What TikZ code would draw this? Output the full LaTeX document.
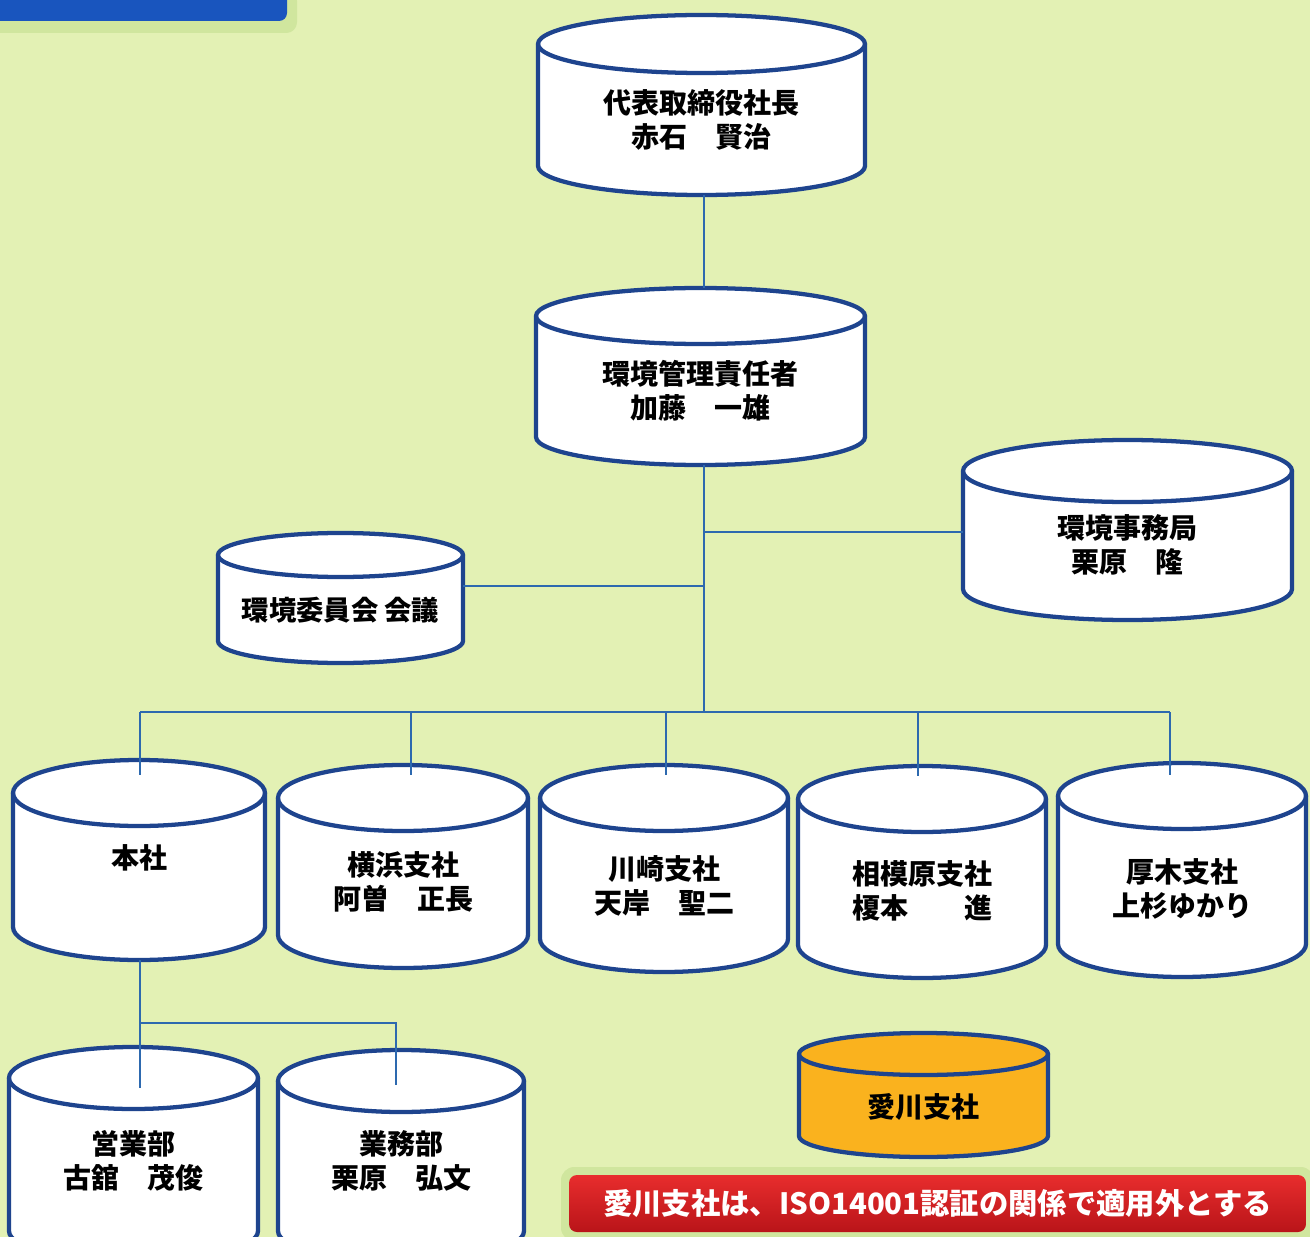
\documentclass[tikz,border=0pt]{standalone}
\usepackage{fontspec}
\setmainfont{Noto Sans CJK JP}
\usetikzlibrary{calc}
\definecolor{bg}{RGB}{227,241,180}
\definecolor{navy}{RGB}{30,68,142}
\definecolor{conn}{RGB}{45,105,175}
\definecolor{orng}{RGB}{250,178,30}
\definecolor{tabblue}{RGB}{25,85,190}
\definecolor{redtop}{RGB}{232,45,45}
\definecolor{redbot}{RGB}{185,20,25}
\definecolor{shadowgreen}{RGB}{208,230,158}
\tikzset{
  cylline/.style={draw=navy, line width=3.2pt},
  cylbody/.style={draw=none, inner sep=0pt, outer sep=0pt},
  cyltext/.style={align=center, text=black, inner sep=0pt, font=\fontsize{21}{25.5}\selectfont\bfseries},
  connline/.style={draw=conn, line width=1.3pt},
  banner/.style={rounded corners=6pt, top color=redtop, bottom color=redbot, text=white, inner sep=0pt,
     font=\fontsize{22}{26}\selectfont\bfseries}
}
% #1 name, #2 xl, #3 xr, #4 ytop, #5 ybottom, #6 ry, #7 fill, #8 text y, #9 text
\newcommand\mycyl[9]{%
 \pgfmathsetmacro\cylcx{(#2+#3)/2}%
 \pgfmathsetmacro\cylrx{(#3-#2)/2}%
 \pgfmathsetmacro\cylkx{0.5523*\cylrx}%
 \pgfmathsetmacro\cylky{0.5523*#6}%
 \pgfmathsetmacro\cylct{#4+#6}%
 \pgfmathsetmacro\cylcb{#5-#6}%
 \pgfmathsetmacro\cylcy{(#4+#5)/2}%
 \pgfmathsetmacro\cylw{(#3-#2)*0.75}%
 \pgfmathsetmacro\cylh{(#5-#4)*0.75}%
 \node[cylbody, minimum width=\cylw pt, minimum height=\cylh pt] (#1) at (\cylcx,\cylcy) {};
 \filldraw[cylline, fill=#7] (#2,\cylct) -- (#2,\cylcb)
   .. controls (#2,\cylcb+\cylky) and (\cylcx-\cylkx,#5) .. (\cylcx,#5)
   .. controls (\cylcx+\cylkx,#5) and (#3,\cylcb+\cylky) .. (#3,\cylcb)
   -- (#3,\cylct)
   .. controls (#3,\cylct-\cylky) and (\cylcx+\cylkx,#4) .. (\cylcx,#4)
   .. controls (\cylcx-\cylkx,#4) and (#2,\cylct-\cylky) .. cycle;
 \draw[cylline] (#2,\cylct)
   .. controls (#2,\cylct+\cylky) and (\cylcx-\cylkx,\cylct+#6) .. (\cylcx,\cylct+#6)
   .. controls (\cylcx+\cylkx,\cylct+#6) and (#3,\cylct+\cylky) .. (#3,\cylct);
 \node[cyltext] (#1-t) at (\cylcx,#8) {#9};
}
\begin{document}
\begin{tikzpicture}[x=0.75pt,y=-0.75pt]
\useasboundingbox (0,0) rectangle (1310,1237);
\clip (0,0) rectangle (1310,1237);
\fill[bg] (0,0) rectangle (1310,1237);
% top-left tab
\fill[shadowgreen, rounded corners=8pt] (-10,-10) rectangle (297,33);
\fill[tabblue, rounded corners=6pt] (-10,-10) rectangle (287,21);

% cylinders
\mycyl{ceo}{538}{865}{15}{195}{29}{white}{120}{代表取締役社長\\赤石　賢治}
\mycyl{emr}{536}{865}{288}{465}{28}{white}{391}{環境管理責任者\\加藤　一雄}
\mycyl{jim}{963}{1292}{440}{620}{31}{white}{545}{環境事務局\\栗原　隆}
\mycyl{iin}{218}{463}{533}{663}{22}{white}{610}{\fontsize{20.5}{24}\selectfont 環境委員会 会議}
\mycyl{hon}{13}{265}{760}{960}{33}{white}{858}{本社}
\mycyl{yoko}{278}{528}{765}{968}{33}{white}{882}{横浜支社\\阿曽　正長}
\mycyl{kawa}{540}{788}{765}{972}{33}{white}{886}{川崎支社\\天岸　聖二}
\mycyl{saga}{798}{1046}{766}{978}{33}{white}{891}{相模原支社\\榎本　　進}
\mycyl{atsu}{1058}{1306}{763}{977}{33}{white}{889}{厚木支社\\上杉ゆかり}
\mycyl{eig}{9}{258}{1047}{1262}{31}{white}{1161}{営業部\\古舘　茂俊}
\mycyl{gyo}{278}{524}{1050}{1262}{31}{white}{1161}{業務部\\栗原　弘文}
\mycyl{aik}{799}{1048}{1033}{1157}{21}{orng}{1107}{愛川支社}

% connectors
\coordinate (trunk) at (704,712);
\coordinate (j1) at (704,532);
\coordinate (j2) at (704,586);
\coordinate (b1) at (140,712);
\coordinate (b2) at (411,712);
\coordinate (b3) at (666,712);
\coordinate (b4) at (918,712);
\coordinate (b5) at (1170,712);
\coordinate (s1) at (140,1023);
\coordinate (s2) at (396,1023);
\draw[connline] (ceo.south -| trunk) -- (emr.north -| trunk);
\draw[connline] (emr.south -| trunk) -- (trunk);
\draw[connline] (j1) -- (j1 -| jim.west);
\draw[connline] (j2) -- (j2 -| iin.east);
\draw[connline] (b1) -- (b5);
\draw[connline] (b1) -- ($(b1 |- hon.north)+(0,15)$);
\draw[connline] (b2) -- ($(b2 |- yoko.north)+(0,10)$);
\draw[connline] (b3) -- ($(b3 |- kawa.north)+(0,10)$);
\draw[connline] (b4) -- ($(b4 |- saga.north)+(0,10)$);
\draw[connline] (b5) -- ($(b5 |- atsu.north)+(0,12)$);
\draw[connline] (hon.south -| s1) -- ($(s1 |- eig.north)+(0,41)$);
\draw[connline] (s1) -- (s2) -- ($(s2 |- gyo.north)+(0,35)$);

% banner
\fill[shadowgreen, rounded corners=10pt] (561,1167) rectangle (1314,1241);
\node[banner, minimum width=552.75pt, minimum height=42.75pt] (note) at (937.5,1203.5)
  {愛川支社は、ISO14001認証の関係で適用外とする};
\end{tikzpicture}
\end{document}
